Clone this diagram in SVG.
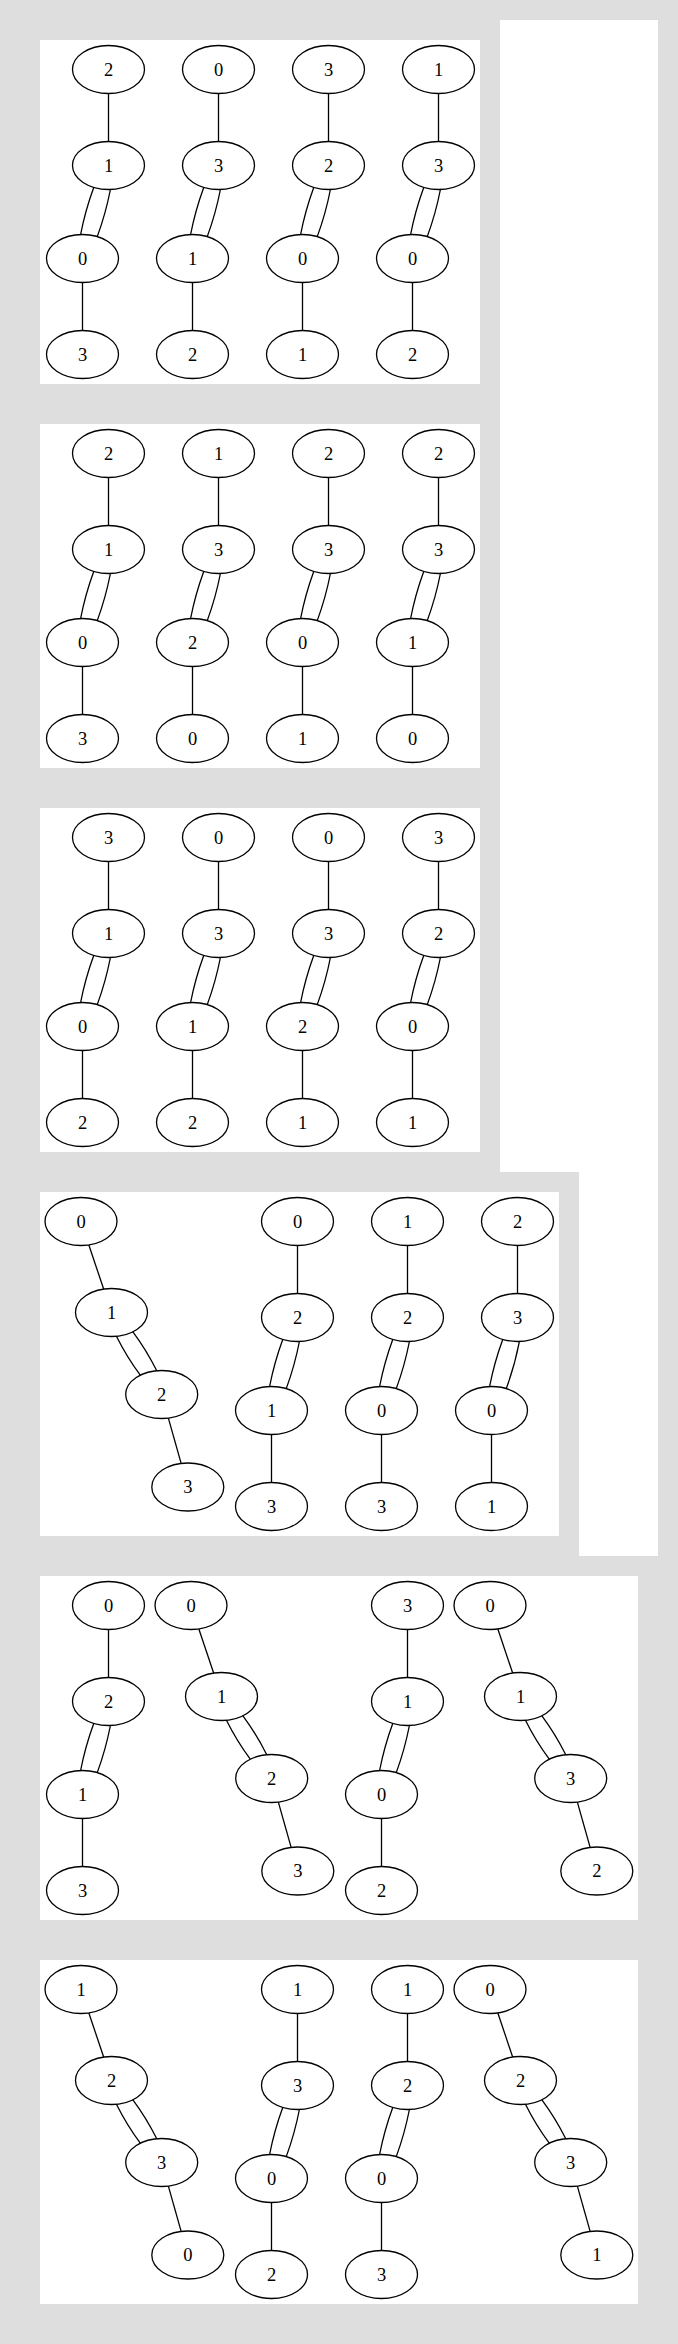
<svg xmlns="http://www.w3.org/2000/svg" width="678" height="2344" viewBox="0 0 678 2344">
<style>
.bg{fill:#dedede}
.pn{fill:#ffffff}
.n ellipse{fill:none;stroke:#000;stroke-width:1.3}
.n text{font-family:"Liberation Serif","Times New Roman",serif;font-size:18.5px;text-anchor:middle;fill:#000}
.e path{fill:none;stroke:#000;stroke-width:1.3}
</style>
<rect class="bg" x="0" y="0" width="678" height="2344"/>
<polygon class="pn" points="500,20 658,20 658,1556 579,1556 579,1172 500,1172"/>
<rect class="pn" x="40" y="40" width="440" height="344"/>
<rect class="pn" x="40" y="424" width="440" height="344"/>
<rect class="pn" x="40" y="808" width="440" height="344"/>
<rect class="pn" x="40" y="1192" width="519" height="344"/>
<rect class="pn" x="40" y="1576" width="598" height="344"/>
<rect class="pn" x="40" y="1960" width="598" height="344"/>
<g id="connectors" class="e">
<g transform="translate(108.5,40)"><path d="M0,53.5V101.5"/><path d="M-14.75,147.4C-20.41,162.74 -24.8,178.44 -27.9,194.5"/><path d="M1.9,149.5C-1.2,165.56 -5.59,181.26 -11.25,196.6"/><path d="M-26,242.5V290.5"/></g>
<g transform="translate(218.5,40)"><path d="M0,53.5V101.5"/><path d="M-14.75,147.4C-20.41,162.74 -24.8,178.44 -27.9,194.5"/><path d="M1.9,149.5C-1.2,165.56 -5.59,181.26 -11.25,196.6"/><path d="M-26,242.5V290.5"/></g>
<g transform="translate(328.5,40)"><path d="M0,53.5V101.5"/><path d="M-14.75,147.4C-20.41,162.74 -24.8,178.44 -27.9,194.5"/><path d="M1.9,149.5C-1.2,165.56 -5.59,181.26 -11.25,196.6"/><path d="M-26,242.5V290.5"/></g>
<g transform="translate(438.5,40)"><path d="M0,53.5V101.5"/><path d="M-14.75,147.4C-20.41,162.74 -24.8,178.44 -27.9,194.5"/><path d="M1.9,149.5C-1.2,165.56 -5.59,181.26 -11.25,196.6"/><path d="M-26,242.5V290.5"/></g>
<g transform="translate(108.5,424)"><path d="M0,53.5V101.5"/><path d="M-14.75,147.4C-20.41,162.74 -24.8,178.44 -27.9,194.5"/><path d="M1.9,149.5C-1.2,165.56 -5.59,181.26 -11.25,196.6"/><path d="M-26,242.5V290.5"/></g>
<g transform="translate(218.5,424)"><path d="M0,53.5V101.5"/><path d="M-14.75,147.4C-20.41,162.74 -24.8,178.44 -27.9,194.5"/><path d="M1.9,149.5C-1.2,165.56 -5.59,181.26 -11.25,196.6"/><path d="M-26,242.5V290.5"/></g>
<g transform="translate(328.5,424)"><path d="M0,53.5V101.5"/><path d="M-14.75,147.4C-20.41,162.74 -24.8,178.44 -27.9,194.5"/><path d="M1.9,149.5C-1.2,165.56 -5.59,181.26 -11.25,196.6"/><path d="M-26,242.5V290.5"/></g>
<g transform="translate(438.5,424)"><path d="M0,53.5V101.5"/><path d="M-14.75,147.4C-20.41,162.74 -24.8,178.44 -27.9,194.5"/><path d="M1.9,149.5C-1.2,165.56 -5.59,181.26 -11.25,196.6"/><path d="M-26,242.5V290.5"/></g>
<g transform="translate(108.5,808)"><path d="M0,53.5V101.5"/><path d="M-14.75,147.4C-20.41,162.74 -24.8,178.44 -27.9,194.5"/><path d="M1.9,149.5C-1.2,165.56 -5.59,181.26 -11.25,196.6"/><path d="M-26,242.5V290.5"/></g>
<g transform="translate(218.5,808)"><path d="M0,53.5V101.5"/><path d="M-14.75,147.4C-20.41,162.74 -24.8,178.44 -27.9,194.5"/><path d="M1.9,149.5C-1.2,165.56 -5.59,181.26 -11.25,196.6"/><path d="M-26,242.5V290.5"/></g>
<g transform="translate(328.5,808)"><path d="M0,53.5V101.5"/><path d="M-14.75,147.4C-20.41,162.74 -24.8,178.44 -27.9,194.5"/><path d="M1.9,149.5C-1.2,165.56 -5.59,181.26 -11.25,196.6"/><path d="M-26,242.5V290.5"/></g>
<g transform="translate(438.5,808)"><path d="M0,53.5V101.5"/><path d="M-14.75,147.4C-20.41,162.74 -24.8,178.44 -27.9,194.5"/><path d="M1.9,149.5C-1.2,165.56 -5.59,181.26 -11.25,196.6"/><path d="M-26,242.5V290.5"/></g>
<g transform="translate(81,1192)"><path d="M7.85,52.92L22.65,97.08"/><path d="M35.44,144.28C42.26,157.95 50.2,170.93 59.28,183.22"/><path d="M51.93,139.79C61,152.08 68.95,165.05 75.76,178.72"/><path d="M87.36,226.09L100.14,271.41"/></g>
<g transform="translate(297.5,1192)"><path d="M0,53.5V101.5"/><path d="M-14.75,147.4C-20.41,162.74 -24.8,178.44 -27.9,194.5"/><path d="M1.9,149.5C-1.2,165.56 -5.59,181.26 -11.25,196.6"/><path d="M-26,242.5V290.5"/></g>
<g transform="translate(407.5,1192)"><path d="M0,53.5V101.5"/><path d="M-14.75,147.4C-20.41,162.74 -24.8,178.44 -27.9,194.5"/><path d="M1.9,149.5C-1.2,165.56 -5.59,181.26 -11.25,196.6"/><path d="M-26,242.5V290.5"/></g>
<g transform="translate(517.5,1192)"><path d="M0,53.5V101.5"/><path d="M-14.75,147.4C-20.41,162.74 -24.8,178.44 -27.9,194.5"/><path d="M1.9,149.5C-1.2,165.56 -5.59,181.26 -11.25,196.6"/><path d="M-26,242.5V290.5"/></g>
<g transform="translate(108.5,1576)"><path d="M0,53.5V101.5"/><path d="M-14.75,147.4C-20.41,162.74 -24.8,178.44 -27.9,194.5"/><path d="M1.9,149.5C-1.2,165.56 -5.59,181.26 -11.25,196.6"/><path d="M-26,242.5V290.5"/></g>
<g transform="translate(191,1576)"><path d="M7.85,52.92L22.65,97.08"/><path d="M35.44,144.28C42.26,157.95 50.2,170.93 59.28,183.22"/><path d="M51.93,139.79C61,152.08 68.95,165.05 75.76,178.72"/><path d="M87.36,226.09L100.14,271.41"/></g>
<g transform="translate(407.5,1576)"><path d="M0,53.5V101.5"/><path d="M-14.75,147.4C-20.41,162.74 -24.8,178.44 -27.9,194.5"/><path d="M1.9,149.5C-1.2,165.56 -5.59,181.26 -11.25,196.6"/><path d="M-26,242.5V290.5"/></g>
<g transform="translate(490,1576)"><path d="M7.85,52.92L22.65,97.08"/><path d="M35.44,144.28C42.26,157.95 50.2,170.93 59.28,183.22"/><path d="M51.93,139.79C61,152.08 68.95,165.05 75.76,178.72"/><path d="M87.36,226.09L100.14,271.41"/></g>
<g transform="translate(81,1960)"><path d="M7.85,52.92L22.65,97.08"/><path d="M35.44,144.28C42.26,157.95 50.2,170.93 59.28,183.22"/><path d="M51.93,139.79C61,152.08 68.95,165.05 75.76,178.72"/><path d="M87.36,226.09L100.14,271.41"/></g>
<g transform="translate(297.5,1960)"><path d="M0,53.5V101.5"/><path d="M-14.75,147.4C-20.41,162.74 -24.8,178.44 -27.9,194.5"/><path d="M1.9,149.5C-1.2,165.56 -5.59,181.26 -11.25,196.6"/><path d="M-26,242.5V290.5"/></g>
<g transform="translate(407.5,1960)"><path d="M0,53.5V101.5"/><path d="M-14.75,147.4C-20.41,162.74 -24.8,178.44 -27.9,194.5"/><path d="M1.9,149.5C-1.2,165.56 -5.59,181.26 -11.25,196.6"/><path d="M-26,242.5V290.5"/></g>
<g transform="translate(490,1960)"><path d="M7.85,52.92L22.65,97.08"/><path d="M35.44,144.28C42.26,157.95 50.2,170.93 59.28,183.22"/><path d="M51.93,139.79C61,152.08 68.95,165.05 75.76,178.72"/><path d="M87.36,226.09L100.14,271.41"/></g>
</g>
<g id="nodes">
<g id="p1c1a" class="n"><ellipse cx="108.5" cy="69.5" rx="36" ry="24"/><text x="108.5" y="75.5">2</text></g>
<g id="p1c1b" class="n"><ellipse cx="108.5" cy="165.5" rx="36" ry="24"/><text x="108.5" y="171.5">1</text></g>
<g id="p1c1c" class="n"><ellipse cx="82.5" cy="258.5" rx="36" ry="24"/><text x="82.5" y="264.5">0</text></g>
<g id="p1c1d" class="n"><ellipse cx="82.5" cy="354.5" rx="36" ry="24"/><text x="82.5" y="360.5">3</text></g>
<g id="p1c2a" class="n"><ellipse cx="218.5" cy="69.5" rx="36" ry="24"/><text x="218.5" y="75.5">0</text></g>
<g id="p1c2b" class="n"><ellipse cx="218.5" cy="165.5" rx="36" ry="24"/><text x="218.5" y="171.5">3</text></g>
<g id="p1c2c" class="n"><ellipse cx="192.5" cy="258.5" rx="36" ry="24"/><text x="192.5" y="264.5">1</text></g>
<g id="p1c2d" class="n"><ellipse cx="192.5" cy="354.5" rx="36" ry="24"/><text x="192.5" y="360.5">2</text></g>
<g id="p1c3a" class="n"><ellipse cx="328.5" cy="69.5" rx="36" ry="24"/><text x="328.5" y="75.5">3</text></g>
<g id="p1c3b" class="n"><ellipse cx="328.5" cy="165.5" rx="36" ry="24"/><text x="328.5" y="171.5">2</text></g>
<g id="p1c3c" class="n"><ellipse cx="302.5" cy="258.5" rx="36" ry="24"/><text x="302.5" y="264.5">0</text></g>
<g id="p1c3d" class="n"><ellipse cx="302.5" cy="354.5" rx="36" ry="24"/><text x="302.5" y="360.5">1</text></g>
<g id="p1c4a" class="n"><ellipse cx="438.5" cy="69.5" rx="36" ry="24"/><text x="438.5" y="75.5">1</text></g>
<g id="p1c4b" class="n"><ellipse cx="438.5" cy="165.5" rx="36" ry="24"/><text x="438.5" y="171.5">3</text></g>
<g id="p1c4c" class="n"><ellipse cx="412.5" cy="258.5" rx="36" ry="24"/><text x="412.5" y="264.5">0</text></g>
<g id="p1c4d" class="n"><ellipse cx="412.5" cy="354.5" rx="36" ry="24"/><text x="412.5" y="360.5">2</text></g>

<g id="p2c1a" class="n"><ellipse cx="108.5" cy="453.5" rx="36" ry="24"/><text x="108.5" y="459.5">2</text></g>
<g id="p2c1b" class="n"><ellipse cx="108.5" cy="549.5" rx="36" ry="24"/><text x="108.5" y="555.5">1</text></g>
<g id="p2c1c" class="n"><ellipse cx="82.5" cy="642.5" rx="36" ry="24"/><text x="82.5" y="648.5">0</text></g>
<g id="p2c1d" class="n"><ellipse cx="82.5" cy="738.5" rx="36" ry="24"/><text x="82.5" y="744.5">3</text></g>
<g id="p2c2a" class="n"><ellipse cx="218.5" cy="453.5" rx="36" ry="24"/><text x="218.5" y="459.5">1</text></g>
<g id="p2c2b" class="n"><ellipse cx="218.5" cy="549.5" rx="36" ry="24"/><text x="218.5" y="555.5">3</text></g>
<g id="p2c2c" class="n"><ellipse cx="192.5" cy="642.5" rx="36" ry="24"/><text x="192.5" y="648.5">2</text></g>
<g id="p2c2d" class="n"><ellipse cx="192.5" cy="738.5" rx="36" ry="24"/><text x="192.5" y="744.5">0</text></g>
<g id="p2c3a" class="n"><ellipse cx="328.5" cy="453.5" rx="36" ry="24"/><text x="328.5" y="459.5">2</text></g>
<g id="p2c3b" class="n"><ellipse cx="328.5" cy="549.5" rx="36" ry="24"/><text x="328.5" y="555.5">3</text></g>
<g id="p2c3c" class="n"><ellipse cx="302.5" cy="642.5" rx="36" ry="24"/><text x="302.5" y="648.5">0</text></g>
<g id="p2c3d" class="n"><ellipse cx="302.5" cy="738.5" rx="36" ry="24"/><text x="302.5" y="744.5">1</text></g>
<g id="p2c4a" class="n"><ellipse cx="438.5" cy="453.5" rx="36" ry="24"/><text x="438.5" y="459.5">2</text></g>
<g id="p2c4b" class="n"><ellipse cx="438.5" cy="549.5" rx="36" ry="24"/><text x="438.5" y="555.5">3</text></g>
<g id="p2c4c" class="n"><ellipse cx="412.5" cy="642.5" rx="36" ry="24"/><text x="412.5" y="648.5">1</text></g>
<g id="p2c4d" class="n"><ellipse cx="412.5" cy="738.5" rx="36" ry="24"/><text x="412.5" y="744.5">0</text></g>

<g id="p3c1a" class="n"><ellipse cx="108.5" cy="837.5" rx="36" ry="24"/><text x="108.5" y="843.5">3</text></g>
<g id="p3c1b" class="n"><ellipse cx="108.5" cy="933.5" rx="36" ry="24"/><text x="108.5" y="939.5">1</text></g>
<g id="p3c1c" class="n"><ellipse cx="82.5" cy="1026.5" rx="36" ry="24"/><text x="82.5" y="1032.5">0</text></g>
<g id="p3c1d" class="n"><ellipse cx="82.5" cy="1122.5" rx="36" ry="24"/><text x="82.5" y="1128.5">2</text></g>
<g id="p3c2a" class="n"><ellipse cx="218.5" cy="837.5" rx="36" ry="24"/><text x="218.5" y="843.5">0</text></g>
<g id="p3c2b" class="n"><ellipse cx="218.5" cy="933.5" rx="36" ry="24"/><text x="218.5" y="939.5">3</text></g>
<g id="p3c2c" class="n"><ellipse cx="192.5" cy="1026.5" rx="36" ry="24"/><text x="192.5" y="1032.5">1</text></g>
<g id="p3c2d" class="n"><ellipse cx="192.5" cy="1122.5" rx="36" ry="24"/><text x="192.5" y="1128.5">2</text></g>
<g id="p3c3a" class="n"><ellipse cx="328.5" cy="837.5" rx="36" ry="24"/><text x="328.5" y="843.5">0</text></g>
<g id="p3c3b" class="n"><ellipse cx="328.5" cy="933.5" rx="36" ry="24"/><text x="328.5" y="939.5">3</text></g>
<g id="p3c3c" class="n"><ellipse cx="302.5" cy="1026.5" rx="36" ry="24"/><text x="302.5" y="1032.5">2</text></g>
<g id="p3c3d" class="n"><ellipse cx="302.5" cy="1122.5" rx="36" ry="24"/><text x="302.5" y="1128.5">1</text></g>
<g id="p3c4a" class="n"><ellipse cx="438.5" cy="837.5" rx="36" ry="24"/><text x="438.5" y="843.5">3</text></g>
<g id="p3c4b" class="n"><ellipse cx="438.5" cy="933.5" rx="36" ry="24"/><text x="438.5" y="939.5">2</text></g>
<g id="p3c4c" class="n"><ellipse cx="412.5" cy="1026.5" rx="36" ry="24"/><text x="412.5" y="1032.5">0</text></g>
<g id="p3c4d" class="n"><ellipse cx="412.5" cy="1122.5" rx="36" ry="24"/><text x="412.5" y="1128.5">1</text></g>

<g id="p4c1a" class="n"><ellipse cx="81" cy="1221.5" rx="36" ry="24"/><text x="81" y="1227.5">0</text></g>
<g id="p4c1b" class="n"><ellipse cx="111.5" cy="1312.5" rx="36" ry="24"/><text x="111.5" y="1318.5">1</text></g>
<g id="p4c1c" class="n"><ellipse cx="161.7" cy="1394.5" rx="36" ry="24"/><text x="161.7" y="1400.5">2</text></g>
<g id="p4c1d" class="n"><ellipse cx="187.8" cy="1487" rx="36" ry="24"/><text x="187.8" y="1493">3</text></g>
<g id="p4c2a" class="n"><ellipse cx="297.5" cy="1221.5" rx="36" ry="24"/><text x="297.5" y="1227.5">0</text></g>
<g id="p4c2b" class="n"><ellipse cx="297.5" cy="1317.5" rx="36" ry="24"/><text x="297.5" y="1323.5">2</text></g>
<g id="p4c2c" class="n"><ellipse cx="271.5" cy="1410.5" rx="36" ry="24"/><text x="271.5" y="1416.5">1</text></g>
<g id="p4c2d" class="n"><ellipse cx="271.5" cy="1506.5" rx="36" ry="24"/><text x="271.5" y="1512.5">3</text></g>
<g id="p4c3a" class="n"><ellipse cx="407.5" cy="1221.5" rx="36" ry="24"/><text x="407.5" y="1227.5">1</text></g>
<g id="p4c3b" class="n"><ellipse cx="407.5" cy="1317.5" rx="36" ry="24"/><text x="407.5" y="1323.5">2</text></g>
<g id="p4c3c" class="n"><ellipse cx="381.5" cy="1410.5" rx="36" ry="24"/><text x="381.5" y="1416.5">0</text></g>
<g id="p4c3d" class="n"><ellipse cx="381.5" cy="1506.5" rx="36" ry="24"/><text x="381.5" y="1512.5">3</text></g>
<g id="p4c4a" class="n"><ellipse cx="517.5" cy="1221.5" rx="36" ry="24"/><text x="517.5" y="1227.5">2</text></g>
<g id="p4c4b" class="n"><ellipse cx="517.5" cy="1317.5" rx="36" ry="24"/><text x="517.5" y="1323.5">3</text></g>
<g id="p4c4c" class="n"><ellipse cx="491.5" cy="1410.5" rx="36" ry="24"/><text x="491.5" y="1416.5">0</text></g>
<g id="p4c4d" class="n"><ellipse cx="491.5" cy="1506.5" rx="36" ry="24"/><text x="491.5" y="1512.5">1</text></g>

<g id="p5c1a" class="n"><ellipse cx="108.5" cy="1605.5" rx="36" ry="24"/><text x="108.5" y="1611.5">0</text></g>
<g id="p5c1b" class="n"><ellipse cx="108.5" cy="1701.5" rx="36" ry="24"/><text x="108.5" y="1707.5">2</text></g>
<g id="p5c1c" class="n"><ellipse cx="82.5" cy="1794.5" rx="36" ry="24"/><text x="82.5" y="1800.5">1</text></g>
<g id="p5c1d" class="n"><ellipse cx="82.5" cy="1890.5" rx="36" ry="24"/><text x="82.5" y="1896.5">3</text></g>
<g id="p5c2a" class="n"><ellipse cx="191" cy="1605.5" rx="36" ry="24"/><text x="191" y="1611.5">0</text></g>
<g id="p5c2b" class="n"><ellipse cx="221.5" cy="1696.5" rx="36" ry="24"/><text x="221.5" y="1702.5">1</text></g>
<g id="p5c2c" class="n"><ellipse cx="271.7" cy="1778.5" rx="36" ry="24"/><text x="271.7" y="1784.5">2</text></g>
<g id="p5c2d" class="n"><ellipse cx="297.8" cy="1871" rx="36" ry="24"/><text x="297.8" y="1877">3</text></g>
<g id="p5c3a" class="n"><ellipse cx="407.5" cy="1605.5" rx="36" ry="24"/><text x="407.5" y="1611.5">3</text></g>
<g id="p5c3b" class="n"><ellipse cx="407.5" cy="1701.5" rx="36" ry="24"/><text x="407.5" y="1707.5">1</text></g>
<g id="p5c3c" class="n"><ellipse cx="381.5" cy="1794.5" rx="36" ry="24"/><text x="381.5" y="1800.5">0</text></g>
<g id="p5c3d" class="n"><ellipse cx="381.5" cy="1890.5" rx="36" ry="24"/><text x="381.5" y="1896.5">2</text></g>
<g id="p5c4a" class="n"><ellipse cx="490" cy="1605.5" rx="36" ry="24"/><text x="490" y="1611.5">0</text></g>
<g id="p5c4b" class="n"><ellipse cx="520.5" cy="1696.5" rx="36" ry="24"/><text x="520.5" y="1702.5">1</text></g>
<g id="p5c4c" class="n"><ellipse cx="570.7" cy="1778.5" rx="36" ry="24"/><text x="570.7" y="1784.5">3</text></g>
<g id="p5c4d" class="n"><ellipse cx="596.8" cy="1871" rx="36" ry="24"/><text x="596.8" y="1877">2</text></g>

<g id="p6c1a" class="n"><ellipse cx="81" cy="1989.5" rx="36" ry="24"/><text x="81" y="1995.5">1</text></g>
<g id="p6c1b" class="n"><ellipse cx="111.5" cy="2080.5" rx="36" ry="24"/><text x="111.5" y="2086.5">2</text></g>
<g id="p6c1c" class="n"><ellipse cx="161.7" cy="2162.5" rx="36" ry="24"/><text x="161.7" y="2168.5">3</text></g>
<g id="p6c1d" class="n"><ellipse cx="187.8" cy="2255" rx="36" ry="24"/><text x="187.8" y="2261">0</text></g>
<g id="p6c2a" class="n"><ellipse cx="297.5" cy="1989.5" rx="36" ry="24"/><text x="297.5" y="1995.5">1</text></g>
<g id="p6c2b" class="n"><ellipse cx="297.5" cy="2085.5" rx="36" ry="24"/><text x="297.5" y="2091.5">3</text></g>
<g id="p6c2c" class="n"><ellipse cx="271.5" cy="2178.5" rx="36" ry="24"/><text x="271.5" y="2184.5">0</text></g>
<g id="p6c2d" class="n"><ellipse cx="271.5" cy="2274.5" rx="36" ry="24"/><text x="271.5" y="2280.5">2</text></g>
<g id="p6c3a" class="n"><ellipse cx="407.5" cy="1989.5" rx="36" ry="24"/><text x="407.5" y="1995.5">1</text></g>
<g id="p6c3b" class="n"><ellipse cx="407.5" cy="2085.5" rx="36" ry="24"/><text x="407.5" y="2091.5">2</text></g>
<g id="p6c3c" class="n"><ellipse cx="381.5" cy="2178.5" rx="36" ry="24"/><text x="381.5" y="2184.5">0</text></g>
<g id="p6c3d" class="n"><ellipse cx="381.5" cy="2274.5" rx="36" ry="24"/><text x="381.5" y="2280.5">3</text></g>
<g id="p6c4a" class="n"><ellipse cx="490" cy="1989.5" rx="36" ry="24"/><text x="490" y="1995.5">0</text></g>
<g id="p6c4b" class="n"><ellipse cx="520.5" cy="2080.5" rx="36" ry="24"/><text x="520.5" y="2086.5">2</text></g>
<g id="p6c4c" class="n"><ellipse cx="570.7" cy="2162.5" rx="36" ry="24"/><text x="570.7" y="2168.5">3</text></g>
<g id="p6c4d" class="n"><ellipse cx="596.8" cy="2255" rx="36" ry="24"/><text x="596.8" y="2261">1</text></g>
</g>
</svg>
